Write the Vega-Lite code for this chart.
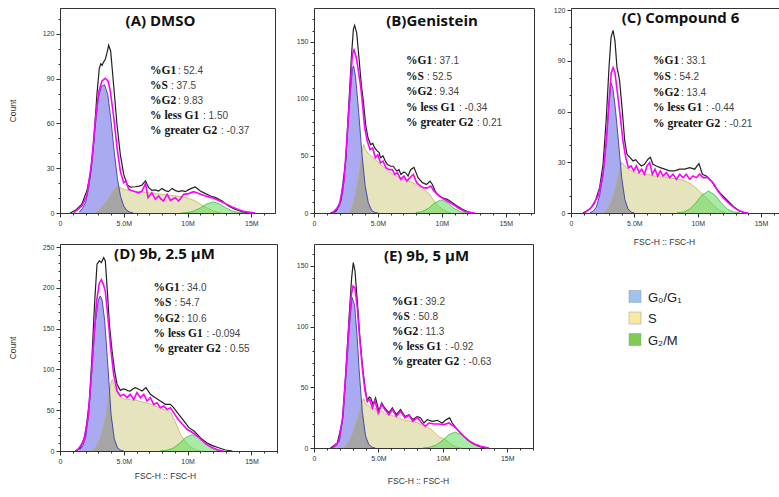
{
"$schema": "https://vega.github.io/schema/vega-lite/v6.json",
"background": "white",
"padding": {"left": 7, "top": 5, "right": 2, "bottom": 2},
"bounds": "flush",
"align": "none",
"columns": 5,
"spacing": {"row": 31, "column": 5},
"config": {
 "view": {"stroke": "#333", "strokeWidth": 1},
 "axis": {"labelFont": "Liberation Sans", "labelFontSize": 7, "labelColor": "#333", "titleFont": "Liberation Sans", "titleFontSize": 8.5, "titleFontWeight": "normal", "titleColor": "#333", "domainColor": "#333", "tickColor": "#333", "grid": false, "labelPadding": 2, "labelOverlap": false, "labelFlush": false},
 "axisX": {"labelOverlap": false, "labelFlush": false, "labelBound": false},
 "title": {"font": "Open Sans", "fontSize": 15, "fontWeight": "bold", "color": "#111", "frame": "group", "anchor": "middle"},
 "style": {
  "lab": {"font": "Liberation Serif", "fontWeight": "bold", "fontSize": 11.5, "align": "left", "baseline": "middle", "color": "#111"},
  "val": {"font": "Liberation Sans", "fontSize": 10, "align": "left", "baseline": "middle", "color": "#444"}
 }
},
"datasets": {
"A": [
{"k":"t","x":0.8,"y":0},{"k":"t","x":1.2,"y":1.8},{"k":"t","x":1.7,"y":5.8},{"k":"t","x":2.1,"y":14.7},{"k":"t","x":2.38,"y":26},{"k":"t","x":2.64,"y":48},{"k":"t","x":2.9,"y":80},{"k":"t","x":3.08,"y":97},{"k":"t","x":3.2,"y":100},{"k":"t","x":3.3,"y":99},{"k":"t","x":3.4,"y":101},{"k":"t","x":3.55,"y":103},{"k":"t","x":3.7,"y":108},{"k":"t","x":3.81,"y":112.4},{"k":"t","x":3.97,"y":108.6},{"k":"t","x":4.2,"y":86},{"k":"t","x":4.47,"y":59},{"k":"t","x":4.73,"y":39},{"k":"t","x":4.99,"y":26},{"k":"t","x":5.25,"y":19},{"k":"t","x":5.51,"y":17.4},{"k":"t","x":5.9,"y":17.6},{"k":"t","x":6.2,"y":18},{"k":"t","x":6.43,"y":18.8},{"k":"t","x":6.7,"y":21.5},{"k":"t","x":6.95,"y":17},{"k":"t","x":7.2,"y":15.2},{"k":"t","x":7.45,"y":15.5},{"k":"t","x":7.73,"y":14.7},{"k":"t","x":7.99,"y":16.5},{"k":"t","x":8.25,"y":15},{"k":"t","x":8.5,"y":14.3},{"k":"t","x":8.78,"y":16.5},{"k":"t","x":9.05,"y":15},{"k":"t","x":9.3,"y":14.3},{"k":"t","x":9.55,"y":15},{"k":"t","x":9.82,"y":14.3},{"k":"t","x":10.05,"y":15.5},{"k":"t","x":10.3,"y":16.5},{"k":"t","x":10.6,"y":17.4},{"k":"t","x":11,"y":14.7},{"k":"t","x":11.4,"y":13},{"k":"t","x":11.8,"y":11.4},{"k":"t","x":12.2,"y":10.3},{"k":"t","x":12.7,"y":8},{"k":"t","x":13.2,"y":4.7},{"k":"t","x":13.7,"y":2.5},{"k":"t","x":14.26,"y":0.9},{"k":"t","x":14.8,"y":0},
{"k":"m","x":1.07,"y":0},{"k":"m","x":1.71,"y":4.7},{"k":"m","x":2.1,"y":11.4},{"k":"m","x":2.5,"y":35},{"k":"m","x":2.77,"y":62},{"k":"m","x":3.03,"y":81},{"k":"m","x":3.29,"y":88.5},{"k":"m","x":3.55,"y":90.3},{"k":"m","x":3.76,"y":88.5},{"k":"m","x":3.94,"y":81.8},{"k":"m","x":4.2,"y":65},{"k":"m","x":4.47,"y":43.8},{"k":"m","x":4.73,"y":28},{"k":"m","x":4.99,"y":20.3},{"k":"m","x":5.17,"y":21.5},{"k":"m","x":5.38,"y":15.9},{"k":"m","x":5.6,"y":15},{"k":"m","x":5.9,"y":14.3},{"k":"m","x":6.15,"y":13.5},{"k":"m","x":6.43,"y":14.7},{"k":"m","x":6.7,"y":19.7},{"k":"m","x":6.9,"y":10.3},{"k":"m","x":7.2,"y":13.6},{"k":"m","x":7.47,"y":9.2},{"k":"m","x":7.73,"y":11.4},{"k":"m","x":7.9,"y":9.5},{"k":"m","x":8.1,"y":8},{"k":"m","x":8.4,"y":12.5},{"k":"m","x":8.65,"y":8.5},{"k":"m","x":9.04,"y":10.3},{"k":"m","x":9.3,"y":8},{"k":"m","x":9.7,"y":12.5},{"k":"m","x":10.08,"y":13},{"k":"m","x":10.47,"y":14.3},{"k":"m","x":10.86,"y":13},{"k":"m","x":11.4,"y":11.4},{"k":"m","x":11.9,"y":10.3},{"k":"m","x":12.4,"y":8.5},{"k":"m","x":12.96,"y":6.3},{"k":"m","x":13.5,"y":4},{"k":"m","x":14,"y":2.2},{"k":"m","x":14.5,"y":0.9},{"k":"m","x":15.3,"y":0},
{"k":"g1","x":1.5,"y":0.5},{"k":"g1","x":1.75,"y":3},{"k":"g1","x":2,"y":7},{"k":"g1","x":2.25,"y":17},{"k":"g1","x":2.5,"y":33},{"k":"g1","x":2.75,"y":57},{"k":"g1","x":3,"y":77},{"k":"g1","x":3.25,"y":85},{"k":"g1","x":3.5,"y":86},{"k":"g1","x":3.75,"y":79},{"k":"g1","x":4,"y":62},{"k":"g1","x":4.25,"y":41},{"k":"g1","x":4.5,"y":23},{"k":"g1","x":4.75,"y":11},{"k":"g1","x":5,"y":4.6},{"k":"g1","x":5.25,"y":1.6},{"k":"g1","x":5.5,"y":0.5},{"k":"g1","x":5.75,"y":0},
{"k":"s","x":2.75,"y":0},{"k":"s","x":3,"y":1.5},{"k":"s","x":3.25,"y":3.5},{"k":"s","x":3.5,"y":6},{"k":"s","x":3.75,"y":9},{"k":"s","x":4,"y":12.5},{"k":"s","x":4.25,"y":16},{"k":"s","x":4.5,"y":18},{"k":"s","x":4.75,"y":17},{"k":"s","x":5,"y":16},{"k":"s","x":5.5,"y":15},{"k":"s","x":6,"y":14.5},{"k":"s","x":6.5,"y":14},{"k":"s","x":7,"y":13.5},{"k":"s","x":7.5,"y":13},{"k":"s","x":8,"y":12.5},{"k":"s","x":8.5,"y":12},{"k":"s","x":9,"y":11.5},{"k":"s","x":9.5,"y":11},{"k":"s","x":10,"y":10},{"k":"s","x":10.5,"y":8.5},{"k":"s","x":11,"y":6},{"k":"s","x":11.5,"y":3.5},{"k":"s","x":12,"y":1.5},{"k":"s","x":12.5,"y":0.3},{"k":"s","x":12.75,"y":0},
{"k":"gr","x":2.75,"y":0},{"k":"gr","x":3,"y":1.5},{"k":"gr","x":3.25,"y":3.5},{"k":"gr","x":3.5,"y":6},{"k":"gr","x":3.75,"y":9},{"k":"gr","x":4,"y":12.5},{"k":"gr","x":4.25,"y":16},{"k":"gr","x":4.5,"y":18},{"k":"gr","x":4.6,"y":17.6},{"k":"gr","x":4.75,"y":11},{"k":"gr","x":5,"y":4.6},{"k":"gr","x":5.25,"y":1.6},{"k":"gr","x":5.5,"y":0.5},{"k":"gr","x":5.75,"y":0},
{"k":"g2","x":9.5,"y":0.06},{"k":"g2","x":10,"y":0.33},{"k":"g2","x":10.5,"y":1.27},{"k":"g2","x":11,"y":3.4},{"k":"g2","x":11.5,"y":6.1},{"k":"g2","x":12,"y":7.4},{"k":"g2","x":12.5,"y":6.1},{"k":"g2","x":13,"y":3.4},{"k":"g2","x":13.5,"y":1.27},{"k":"g2","x":14,"y":0.33},{"k":"g2","x":14.5,"y":0.06}
],
"B": [
{"k":"t","x":1.3,"y":0},{"k":"t","x":1.7,"y":1.8},{"k":"t","x":2.09,"y":10.5},{"k":"t","x":2.48,"y":45.5},{"k":"t","x":2.74,"y":98},{"k":"t","x":2.92,"y":136},{"k":"t","x":3.08,"y":161},{"k":"t","x":3.18,"y":164.6},{"k":"t","x":3.34,"y":158},{"k":"t","x":3.52,"y":136},{"k":"t","x":3.7,"y":112.6},{"k":"t","x":3.86,"y":98},{"k":"t","x":4.04,"y":77.6},{"k":"t","x":4.22,"y":66},{"k":"t","x":4.43,"y":60},{"k":"t","x":4.6,"y":61},{"k":"t","x":4.75,"y":57},{"k":"t","x":4.96,"y":54.3},{"k":"t","x":5.1,"y":53},{"k":"t","x":5.2,"y":48.4},{"k":"t","x":5.4,"y":50},{"k":"t","x":5.6,"y":45},{"k":"t","x":5.74,"y":42.6},{"k":"t","x":6,"y":41},{"k":"t","x":6.2,"y":41},{"k":"t","x":6.47,"y":36.8},{"k":"t","x":6.65,"y":38},{"k":"t","x":6.8,"y":33.8},{"k":"t","x":7.04,"y":36},{"k":"t","x":7.2,"y":35},{"k":"t","x":7.36,"y":32.4},{"k":"t","x":7.56,"y":38},{"k":"t","x":7.82,"y":40},{"k":"t","x":8.14,"y":31},{"k":"t","x":8.48,"y":26.6},{"k":"t","x":8.8,"y":25},{"k":"t","x":9.08,"y":28},{"k":"t","x":9.26,"y":25},{"k":"t","x":9.45,"y":20},{"k":"t","x":9.65,"y":16.3},{"k":"t","x":10.04,"y":13.4},{"k":"t","x":10.43,"y":12},{"k":"t","x":10.82,"y":9},{"k":"t","x":11.2,"y":6.1},{"k":"t","x":11.6,"y":3.2},{"k":"t","x":12,"y":1.2},{"k":"t","x":12.4,"y":0},
{"k":"m","x":1.43,"y":0},{"k":"m","x":1.96,"y":6},{"k":"m","x":2.35,"y":28},{"k":"m","x":2.6,"y":69},{"k":"m","x":2.82,"y":107},{"k":"m","x":3,"y":139},{"k":"m","x":3.13,"y":143},{"k":"m","x":3.29,"y":137},{"k":"m","x":3.44,"y":127},{"k":"m","x":3.65,"y":111},{"k":"m","x":3.8,"y":95},{"k":"m","x":3.96,"y":75},{"k":"m","x":4.17,"y":63},{"k":"m","x":4.38,"y":55.7},{"k":"m","x":4.59,"y":57},{"k":"m","x":4.8,"y":48.4},{"k":"m","x":5,"y":51},{"k":"m","x":5.2,"y":44},{"k":"m","x":5.4,"y":45.5},{"k":"m","x":5.63,"y":39.7},{"k":"m","x":5.87,"y":38},{"k":"m","x":6.13,"y":38},{"k":"m","x":6.31,"y":33.8},{"k":"m","x":6.52,"y":35.3},{"k":"m","x":6.78,"y":29.5},{"k":"m","x":7.04,"y":32.4},{"k":"m","x":7.25,"y":28},{"k":"m","x":7.51,"y":31},{"k":"m","x":7.77,"y":33.8},{"k":"m","x":8.03,"y":26.6},{"k":"m","x":8.35,"y":23.6},{"k":"m","x":8.6,"y":22},{"k":"m","x":8.87,"y":22},{"k":"m","x":9.13,"y":23.6},{"k":"m","x":9.39,"y":19.3},{"k":"m","x":9.78,"y":15},{"k":"m","x":10.17,"y":12},{"k":"m","x":10.56,"y":9.6},{"k":"m","x":10.95,"y":7},{"k":"m","x":11.35,"y":4},{"k":"m","x":11.74,"y":1.8},{"k":"m","x":12.26,"y":0.3},{"k":"m","x":12.6,"y":0},
{"k":"g1","x":1.5,"y":0},{"k":"g1","x":1.75,"y":1.5},{"k":"g1","x":2,"y":7},{"k":"g1","x":2.25,"y":18},{"k":"g1","x":2.5,"y":50},{"k":"g1","x":2.75,"y":92},{"k":"g1","x":3,"y":126},{"k":"g1","x":3.1,"y":129},{"k":"g1","x":3.25,"y":120},{"k":"g1","x":3.5,"y":88},{"k":"g1","x":3.75,"y":52},{"k":"g1","x":4,"y":24},{"k":"g1","x":4.25,"y":9},{"k":"g1","x":4.5,"y":2.5},{"k":"g1","x":4.75,"y":0.5},{"k":"g1","x":5,"y":0},
{"k":"s","x":2.75,"y":0},{"k":"s","x":3,"y":5},{"k":"s","x":3.25,"y":16},{"k":"s","x":3.5,"y":32},{"k":"s","x":3.65,"y":45},{"k":"s","x":3.8,"y":57},{"k":"s","x":3.9,"y":60},{"k":"s","x":4,"y":56},{"k":"s","x":4.25,"y":52},{"k":"s","x":4.5,"y":50},{"k":"s","x":4.75,"y":47},{"k":"s","x":5,"y":45},{"k":"s","x":5.25,"y":42},{"k":"s","x":5.5,"y":40},{"k":"s","x":5.75,"y":37},{"k":"s","x":6,"y":35},{"k":"s","x":6.5,"y":32},{"k":"s","x":7,"y":30},{"k":"s","x":7.5,"y":28},{"k":"s","x":8,"y":25},{"k":"s","x":8.5,"y":21},{"k":"s","x":9,"y":17},{"k":"s","x":9.25,"y":13},{"k":"s","x":9.5,"y":9},{"k":"s","x":9.75,"y":6},{"k":"s","x":10,"y":4},{"k":"s","x":10.25,"y":2},{"k":"s","x":10.5,"y":0.8},{"k":"s","x":10.75,"y":0},
{"k":"gr","x":2.75,"y":0},{"k":"gr","x":3,"y":5},{"k":"gr","x":3.25,"y":16},{"k":"gr","x":3.5,"y":32},{"k":"gr","x":3.65,"y":45},{"k":"gr","x":3.74,"y":52},{"k":"gr","x":3.8,"y":46.4},{"k":"gr","x":4,"y":24},{"k":"gr","x":4.25,"y":9},{"k":"gr","x":4.5,"y":2.5},{"k":"gr","x":4.75,"y":0.5},{"k":"gr","x":5,"y":0},
{"k":"g2","x":7.95,"y":0.2},{"k":"g2","x":8.45,"y":1.2},{"k":"g2","x":8.95,"y":4.1},{"k":"g2","x":9.45,"y":8.9},{"k":"g2","x":9.95,"y":11.5},{"k":"g2","x":10.45,"y":8.9},{"k":"g2","x":10.95,"y":4.1},{"k":"g2","x":11.45,"y":1.2},{"k":"g2","x":11.95,"y":0.2}
],
"C": [
{"k":"t","x":0.95,"y":0},{"k":"t","x":1.47,"y":2.2},{"k":"t","x":1.87,"y":6},{"k":"t","x":2.26,"y":15},{"k":"t","x":2.53,"y":28.8},{"k":"t","x":2.79,"y":56.4},{"k":"t","x":3,"y":86},{"k":"t","x":3.16,"y":103.8},{"k":"t","x":3.32,"y":108},{"k":"t","x":3.47,"y":101.8},{"k":"t","x":3.63,"y":86},{"k":"t","x":3.75,"y":82},{"k":"t","x":3.84,"y":78},{"k":"t","x":4.05,"y":60.4},{"k":"t","x":4.24,"y":42.6},{"k":"t","x":4.42,"y":34.7},{"k":"t","x":4.63,"y":33},{"k":"t","x":4.9,"y":30.8},{"k":"t","x":5.1,"y":31.5},{"k":"t","x":5.29,"y":29.8},{"k":"t","x":5.55,"y":27.8},{"k":"t","x":5.8,"y":28.8},{"k":"t","x":6.08,"y":31.8},{"k":"t","x":6.26,"y":33},{"k":"t","x":6.47,"y":28.8},{"k":"t","x":6.74,"y":27.8},{"k":"t","x":7.05,"y":26.8},{"k":"t","x":7.4,"y":25.9},{"k":"t","x":7.79,"y":24.9},{"k":"t","x":8.18,"y":24.9},{"k":"t","x":8.58,"y":25.9},{"k":"t","x":8.97,"y":25.9},{"k":"t","x":9.37,"y":26.8},{"k":"t","x":9.76,"y":25.9},{"k":"t","x":10.1,"y":29.2},{"k":"t","x":10.37,"y":22.9},{"k":"t","x":10.68,"y":21.9},{"k":"t","x":11.08,"y":18.9},{"k":"t","x":11.42,"y":15},{"k":"t","x":11.74,"y":12},{"k":"t","x":12.13,"y":9},{"k":"t","x":12.53,"y":6.1},{"k":"t","x":12.92,"y":3.2},{"k":"t","x":13.3,"y":1.2},{"k":"t","x":13.84,"y":0},
{"k":"m","x":1.08,"y":0},{"k":"m","x":1.6,"y":3.2},{"k":"m","x":2.13,"y":10},{"k":"m","x":2.53,"y":22.9},{"k":"m","x":2.79,"y":42.6},{"k":"m","x":3,"y":66.3},{"k":"m","x":3.18,"y":83},{"k":"m","x":3.32,"y":86},{"k":"m","x":3.47,"y":83},{"k":"m","x":3.68,"y":70},{"k":"m","x":3.9,"y":56.4},{"k":"m","x":4.1,"y":42.6},{"k":"m","x":4.32,"y":32.8},{"k":"m","x":4.53,"y":26.8},{"k":"m","x":4.74,"y":27.8},{"k":"m","x":4.95,"y":24.9},{"k":"m","x":5.16,"y":27.8},{"k":"m","x":5.37,"y":23.9},{"k":"m","x":5.58,"y":25.9},{"k":"m","x":5.79,"y":22.9},{"k":"m","x":6,"y":27.8},{"k":"m","x":6.21,"y":29.8},{"k":"m","x":6.42,"y":22.9},{"k":"m","x":6.63,"y":25.9},{"k":"m","x":6.84,"y":21.9},{"k":"m","x":7.05,"y":24.9},{"k":"m","x":7.26,"y":21.9},{"k":"m","x":7.53,"y":23.9},{"k":"m","x":7.79,"y":20.9},{"k":"m","x":8.05,"y":22.9},{"k":"m","x":8.32,"y":19.9},{"k":"m","x":8.58,"y":22.9},{"k":"m","x":8.84,"y":20.9},{"k":"m","x":9.1,"y":22.9},{"k":"m","x":9.37,"y":19.9},{"k":"m","x":9.63,"y":21.9},{"k":"m","x":9.9,"y":20.9},{"k":"m","x":10.16,"y":22.9},{"k":"m","x":10.42,"y":20.9},{"k":"m","x":10.8,"y":20.9},{"k":"m","x":11.2,"y":18},{"k":"m","x":11.6,"y":13},{"k":"m","x":12,"y":9},{"k":"m","x":12.4,"y":6.1},{"k":"m","x":12.8,"y":3.6},{"k":"m","x":13.2,"y":1.6},{"k":"m","x":13.7,"y":0.2},{"k":"m","x":14,"y":0},
{"k":"g1","x":1.5,"y":0.3},{"k":"g1","x":1.75,"y":1},{"k":"g1","x":2,"y":3.5},{"k":"g1","x":2.25,"y":10},{"k":"g1","x":2.5,"y":21},{"k":"g1","x":2.75,"y":40},{"k":"g1","x":3,"y":64},{"k":"g1","x":3.15,"y":77},{"k":"g1","x":3.3,"y":74},{"k":"g1","x":3.5,"y":62},{"k":"g1","x":3.75,"y":42},{"k":"g1","x":4,"y":21},{"k":"g1","x":4.25,"y":8},{"k":"g1","x":4.5,"y":2.5},{"k":"g1","x":4.75,"y":0.5},{"k":"g1","x":5,"y":0},
{"k":"s","x":2.5,"y":0},{"k":"s","x":2.75,"y":1.5},{"k":"s","x":3,"y":4},{"k":"s","x":3.25,"y":8},{"k":"s","x":3.5,"y":14},{"k":"s","x":3.75,"y":22},{"k":"s","x":4,"y":30},{"k":"s","x":4.25,"y":28},{"k":"s","x":4.5,"y":26},{"k":"s","x":5,"y":24},{"k":"s","x":5.5,"y":23},{"k":"s","x":6,"y":23},{"k":"s","x":6.5,"y":22},{"k":"s","x":7,"y":21.5},{"k":"s","x":7.5,"y":21},{"k":"s","x":8,"y":20.5},{"k":"s","x":8.5,"y":20},{"k":"s","x":9,"y":19},{"k":"s","x":9.5,"y":17},{"k":"s","x":9.75,"y":15.5},{"k":"s","x":10,"y":14},{"k":"s","x":10.25,"y":12},{"k":"s","x":10.5,"y":10.5},{"k":"s","x":10.75,"y":8.5},{"k":"s","x":11,"y":6.5},{"k":"s","x":11.25,"y":4.5},{"k":"s","x":11.5,"y":3},{"k":"s","x":11.75,"y":1.5},{"k":"s","x":12,"y":0.6},{"k":"s","x":12.25,"y":0},
{"k":"gr","x":2.5,"y":0},{"k":"gr","x":2.75,"y":1.5},{"k":"gr","x":3,"y":4},{"k":"gr","x":3.25,"y":8},{"k":"gr","x":3.5,"y":14},{"k":"gr","x":3.75,"y":22},{"k":"gr","x":3.92,"y":27.3},{"k":"gr","x":4,"y":21},{"k":"gr","x":4.25,"y":8},{"k":"gr","x":4.5,"y":2.5},{"k":"gr","x":4.75,"y":0.5},{"k":"gr","x":5,"y":0},
{"k":"g2","x":8.35,"y":0.1},{"k":"g2","x":8.85,"y":0.57},{"k":"g2","x":9.35,"y":2.2},{"k":"g2","x":9.85,"y":6},{"k":"g2","x":10.35,"y":10.7},{"k":"g2","x":10.85,"y":13},{"k":"g2","x":11.35,"y":10.7},{"k":"g2","x":11.85,"y":6},{"k":"g2","x":12.35,"y":2.2},{"k":"g2","x":12.85,"y":0.57},{"k":"g2","x":13.35,"y":0.1}
],
"D": [
{"k":"t","x":1.2,"y":0},{"k":"t","x":1.6,"y":4},{"k":"t","x":1.99,"y":20},{"k":"t","x":2.3,"y":61},{"k":"t","x":2.5,"y":114},{"k":"t","x":2.72,"y":184},{"k":"t","x":2.9,"y":229},{"k":"t","x":3.08,"y":233},{"k":"t","x":3.24,"y":231},{"k":"t","x":3.42,"y":237},{"k":"t","x":3.55,"y":233},{"k":"t","x":3.71,"y":196},{"k":"t","x":3.87,"y":155},{"k":"t","x":4.08,"y":122.5},{"k":"t","x":4.28,"y":98},{"k":"t","x":4.47,"y":81.7},{"k":"t","x":4.73,"y":74.3},{"k":"t","x":4.95,"y":76},{"k":"t","x":5.12,"y":75.6},{"k":"t","x":5.3,"y":74},{"k":"t","x":5.5,"y":73.5},{"k":"t","x":5.7,"y":76},{"k":"t","x":5.9,"y":77.6},{"k":"t","x":6.17,"y":75.6},{"k":"t","x":6.43,"y":73.5},{"k":"t","x":6.6,"y":76},{"k":"t","x":6.74,"y":77.6},{"k":"t","x":7.08,"y":69.4},{"k":"t","x":7.47,"y":65.4},{"k":"t","x":7.86,"y":61.3},{"k":"t","x":8.25,"y":57.2},{"k":"t","x":8.65,"y":57.2},{"k":"t","x":8.9,"y":53.1},{"k":"t","x":9.3,"y":45},{"k":"t","x":9.7,"y":36.8},{"k":"t","x":10.1,"y":28.6},{"k":"t","x":10.5,"y":24.5},{"k":"t","x":10.87,"y":18.4},{"k":"t","x":11.13,"y":14.3},{"k":"t","x":11.5,"y":10.2},{"k":"t","x":11.9,"y":6.9},{"k":"t","x":12.43,"y":4},{"k":"t","x":12.96,"y":1.2},{"k":"t","x":13.5,"y":0},
{"k":"m","x":1.33,"y":0},{"k":"m","x":1.85,"y":12},{"k":"m","x":2.2,"y":41},{"k":"m","x":2.46,"y":94},{"k":"m","x":2.67,"y":143},{"k":"m","x":2.87,"y":184},{"k":"m","x":3.08,"y":206},{"k":"m","x":3.24,"y":210},{"k":"m","x":3.4,"y":204},{"k":"m","x":3.55,"y":196},{"k":"m","x":3.76,"y":163},{"k":"m","x":3.97,"y":126.6},{"k":"m","x":4.2,"y":94},{"k":"m","x":4.47,"y":73.5},{"k":"m","x":4.73,"y":67.4},{"k":"m","x":4.99,"y":69.4},{"k":"m","x":5.25,"y":65.4},{"k":"m","x":5.5,"y":69.4},{"k":"m","x":5.77,"y":63.3},{"k":"m","x":6.03,"y":71.5},{"k":"m","x":6.3,"y":65.4},{"k":"m","x":6.56,"y":69.4},{"k":"m","x":6.82,"y":61.3},{"k":"m","x":7.08,"y":65.4},{"k":"m","x":7.34,"y":57.2},{"k":"m","x":7.6,"y":59.2},{"k":"m","x":7.86,"y":53.1},{"k":"m","x":8.12,"y":55.1},{"k":"m","x":8.39,"y":51},{"k":"m","x":8.65,"y":53.1},{"k":"m","x":8.9,"y":47},{"k":"m","x":9.17,"y":40.8},{"k":"m","x":9.56,"y":33.5},{"k":"m","x":9.95,"y":26.6},{"k":"m","x":10.34,"y":23},{"k":"m","x":10.74,"y":18.5},{"k":"m","x":11.13,"y":13},{"k":"m","x":11.52,"y":8},{"k":"m","x":11.9,"y":4.5},{"k":"m","x":12.3,"y":1.6},{"k":"m","x":12.8,"y":0},
{"k":"g1","x":1.5,"y":1},{"k":"g1","x":1.75,"y":5},{"k":"g1","x":2,"y":16},{"k":"g1","x":2.25,"y":45},{"k":"g1","x":2.5,"y":100},{"k":"g1","x":2.75,"y":155},{"k":"g1","x":3,"y":185},{"k":"g1","x":3.15,"y":190},{"k":"g1","x":3.3,"y":185},{"k":"g1","x":3.5,"y":160},{"k":"g1","x":3.75,"y":105},{"k":"g1","x":4,"y":45},{"k":"g1","x":4.25,"y":15},{"k":"g1","x":4.5,"y":4},{"k":"g1","x":4.75,"y":1},{"k":"g1","x":5,"y":0},
{"k":"s","x":2.5,"y":0},{"k":"s","x":2.75,"y":4},{"k":"s","x":3,"y":10},{"k":"s","x":3.25,"y":20},{"k":"s","x":3.5,"y":36},{"k":"s","x":3.75,"y":58},{"k":"s","x":4,"y":84},{"k":"s","x":4.1,"y":88},{"k":"s","x":4.25,"y":80},{"k":"s","x":4.5,"y":70},{"k":"s","x":4.75,"y":66},{"k":"s","x":5,"y":64},{"k":"s","x":5.5,"y":63},{"k":"s","x":6,"y":62},{"k":"s","x":6.5,"y":60},{"k":"s","x":7,"y":58},{"k":"s","x":7.5,"y":55},{"k":"s","x":8,"y":52},{"k":"s","x":8.5,"y":49},{"k":"s","x":8.75,"y":45},{"k":"s","x":9,"y":37},{"k":"s","x":9.25,"y":27},{"k":"s","x":9.5,"y":19},{"k":"s","x":9.75,"y":13},{"k":"s","x":10,"y":8.5},{"k":"s","x":10.25,"y":5},{"k":"s","x":10.5,"y":2.5},{"k":"s","x":10.75,"y":1},{"k":"s","x":11,"y":0.2},{"k":"s","x":11.25,"y":0},
{"k":"gr","x":2.5,"y":0},{"k":"gr","x":2.75,"y":4},{"k":"gr","x":3,"y":10},{"k":"gr","x":3.25,"y":20},{"k":"gr","x":3.5,"y":36},{"k":"gr","x":3.75,"y":58},{"k":"gr","x":3.89,"y":72},{"k":"gr","x":4,"y":45},{"k":"gr","x":4.25,"y":15},{"k":"gr","x":4.5,"y":4},{"k":"gr","x":4.75,"y":1},{"k":"gr","x":5,"y":0},
{"k":"g2","x":7.85,"y":0.15},{"k":"g2","x":8.35,"y":0.9},{"k":"g2","x":8.85,"y":3.4},{"k":"g2","x":9.35,"y":9.2},{"k":"g2","x":9.85,"y":16.5},{"k":"g2","x":10.35,"y":20},{"k":"g2","x":10.85,"y":16.5},{"k":"g2","x":11.35,"y":9.2},{"k":"g2","x":11.85,"y":3.4},{"k":"g2","x":12.35,"y":0.9},{"k":"g2","x":12.85,"y":0.15}
],
"E": [
{"k":"t","x":1.29,"y":0},{"k":"t","x":1.81,"y":4.1},{"k":"t","x":2.2,"y":22},{"k":"t","x":2.46,"y":60.6},{"k":"t","x":2.72,"y":107},{"k":"t","x":2.92,"y":140},{"k":"t","x":3.05,"y":152.8},{"k":"t","x":3.18,"y":146},{"k":"t","x":3.36,"y":121},{"k":"t","x":3.54,"y":93.6},{"k":"t","x":3.75,"y":68.8},{"k":"t","x":3.96,"y":49.5},{"k":"t","x":4.14,"y":38.5},{"k":"t","x":4.28,"y":42},{"k":"t","x":4.4,"y":41.3},{"k":"t","x":4.58,"y":35.8},{"k":"t","x":4.78,"y":41.3},{"k":"t","x":5.04,"y":30.3},{"k":"t","x":5.25,"y":37.2},{"k":"t","x":5.5,"y":33},{"k":"t","x":5.82,"y":28.9},{"k":"t","x":6.08,"y":33},{"k":"t","x":6.39,"y":27.5},{"k":"t","x":6.72,"y":31.7},{"k":"t","x":7.06,"y":26},{"k":"t","x":7.37,"y":27.5},{"k":"t","x":7.68,"y":23.4},{"k":"t","x":8.02,"y":26},{"k":"t","x":8.28,"y":24.8},{"k":"t","x":8.53,"y":20.6},{"k":"t","x":8.79,"y":23.4},{"k":"t","x":9.18,"y":22},{"k":"t","x":9.57,"y":22.8},{"k":"t","x":9.96,"y":20.6},{"k":"t","x":10.27,"y":23.4},{"k":"t","x":10.53,"y":24.8},{"k":"t","x":10.73,"y":20.6},{"k":"t","x":11.12,"y":15.1},{"k":"t","x":11.5,"y":11},{"k":"t","x":11.9,"y":6.9},{"k":"t","x":12.28,"y":4.1},{"k":"t","x":12.8,"y":1.4},{"k":"t","x":13.3,"y":0},
{"k":"m","x":1.42,"y":0},{"k":"m","x":1.94,"y":5.5},{"k":"m","x":2.25,"y":27.5},{"k":"m","x":2.5,"y":66},{"k":"m","x":2.72,"y":102},{"k":"m","x":2.9,"y":126.6},{"k":"m","x":3.03,"y":133.5},{"k":"m","x":3.18,"y":132},{"k":"m","x":3.36,"y":115.6},{"k":"m","x":3.54,"y":90.8},{"k":"m","x":3.75,"y":66},{"k":"m","x":3.96,"y":46.8},{"k":"m","x":4.14,"y":38.5},{"k":"m","x":4.32,"y":40},{"k":"m","x":4.53,"y":33},{"k":"m","x":4.73,"y":39},{"k":"m","x":4.99,"y":28.9},{"k":"m","x":5.25,"y":35.8},{"k":"m","x":5.5,"y":31.7},{"k":"m","x":5.82,"y":27.5},{"k":"m","x":6.08,"y":31.7},{"k":"m","x":6.39,"y":26},{"k":"m","x":6.72,"y":30.3},{"k":"m","x":7.06,"y":24.8},{"k":"m","x":7.37,"y":27},{"k":"m","x":7.68,"y":22},{"k":"m","x":8.02,"y":25.3},{"k":"m","x":8.35,"y":20.6},{"k":"m","x":8.66,"y":17.9},{"k":"m","x":8.92,"y":20.6},{"k":"m","x":9.31,"y":19.8},{"k":"m","x":9.7,"y":19.8},{"k":"m","x":10.09,"y":19.3},{"k":"m","x":10.47,"y":20.6},{"k":"m","x":10.86,"y":17.9},{"k":"m","x":11.25,"y":13.8},{"k":"m","x":11.64,"y":9.6},{"k":"m","x":12.02,"y":6},{"k":"m","x":12.41,"y":3.6},{"k":"m","x":12.93,"y":1.4},{"k":"m","x":13.58,"y":0},
{"k":"g1","x":1.5,"y":0.5},{"k":"g1","x":1.75,"y":2},{"k":"g1","x":2,"y":8},{"k":"g1","x":2.25,"y":26},{"k":"g1","x":2.5,"y":62},{"k":"g1","x":2.75,"y":100},{"k":"g1","x":2.95,"y":124},{"k":"g1","x":3.15,"y":118},{"k":"g1","x":3.35,"y":92},{"k":"g1","x":3.5,"y":65},{"k":"g1","x":3.75,"y":30},{"k":"g1","x":4,"y":10},{"k":"g1","x":4.25,"y":3},{"k":"g1","x":4.5,"y":0.7},{"k":"g1","x":4.75,"y":0},
{"k":"s","x":2.25,"y":0},{"k":"s","x":2.5,"y":2},{"k":"s","x":2.75,"y":6},{"k":"s","x":3,"y":12},{"k":"s","x":3.25,"y":20},{"k":"s","x":3.5,"y":28},{"k":"s","x":3.75,"y":38},{"k":"s","x":3.85,"y":41},{"k":"s","x":4,"y":36},{"k":"s","x":4.25,"y":35},{"k":"s","x":4.5,"y":32},{"k":"s","x":4.75,"y":33},{"k":"s","x":5,"y":28},{"k":"s","x":5.25,"y":31},{"k":"s","x":5.5,"y":28},{"k":"s","x":6,"y":27},{"k":"s","x":6.5,"y":25},{"k":"s","x":7,"y":23},{"k":"s","x":7.5,"y":22},{"k":"s","x":8,"y":21},{"k":"s","x":8.5,"y":18},{"k":"s","x":9,"y":16},{"k":"s","x":9.25,"y":14},{"k":"s","x":9.5,"y":11},{"k":"s","x":9.75,"y":9},{"k":"s","x":10,"y":8},{"k":"s","x":10.25,"y":6.5},{"k":"s","x":10.5,"y":4.5},{"k":"s","x":10.75,"y":2.5},{"k":"s","x":11,"y":1},{"k":"s","x":11.25,"y":0.3},{"k":"s","x":11.5,"y":0},
{"k":"gr","x":2.25,"y":0},{"k":"gr","x":2.5,"y":2},{"k":"gr","x":2.75,"y":6},{"k":"gr","x":3,"y":12},{"k":"gr","x":3.25,"y":20},{"k":"gr","x":3.5,"y":28},{"k":"gr","x":3.7,"y":36.2},{"k":"gr","x":3.75,"y":30},{"k":"gr","x":4,"y":10},{"k":"gr","x":4.25,"y":3},{"k":"gr","x":4.5,"y":0.7},{"k":"gr","x":4.75,"y":0},
{"k":"g2","x":8.45,"y":0.1},{"k":"g2","x":8.95,"y":0.58},{"k":"g2","x":9.45,"y":2.3},{"k":"g2","x":9.95,"y":6},{"k":"g2","x":10.45,"y":10.9},{"k":"g2","x":10.95,"y":13.2},{"k":"g2","x":11.45,"y":10.9},{"k":"g2","x":11.95,"y":6},{"k":"g2","x":12.45,"y":2.3},{"k":"g2","x":12.95,"y":0.58},{"k":"g2","x":13.45,"y":0.1}
],
"sA": [{"lab":"%G1","val":": 52.4"},{"lab":"%S","val":": 37.5"},{"lab":"%G2","val":": 9.83"},{"lab":"% less G1","val":": 1.50"},{"lab":"% greater G2","val":": -0.37"}],
"sB": [{"lab":"%G1","val":": 37.1"},{"lab":"%S","val":": 52.5"},{"lab":"%G2","val":": 9.34"},{"lab":"% less G1","val":": -0.34"},{"lab":"% greater G2","val":": 0.21"}],
"sC": [{"lab":"%G1","val":": 33.1"},{"lab":"%S","val":": 54.2"},{"lab":"%G2","val":": 13.4"},{"lab":"% less G1","val":": -0.44"},{"lab":"% greater G2","val":": -0.21"}],
"sD": [{"lab":"%G1","val":": 34.0"},{"lab":"%S","val":": 54.7"},{"lab":"%G2","val":": 10.6"},{"lab":"% less G1","val":": -0.094"},{"lab":"% greater G2","val":": 0.55"}],
"sE": [{"lab":"%G1","val":": 39.2"},{"lab":"%S","val":": 50.8"},{"lab":"%G2","val":": 11.3"},{"lab":"% less G1","val":": -0.92"},{"lab":"% greater G2","val":": -0.63"}],
"leg": [{"ph":"G₀/G₁"},{"ph":"S"},{"ph":"G₂/M"}]
},
"concat": [
 {"width": 215, "height": 205, "title": {"text": "(A) DMSO", "offset": -21, "dx": -7},
  "layer": [
   {"data": {"name": "A"},
    "encoding": {
     "x": {"field": "x", "type": "quantitative", "scale": {"domain": [0, 16.85], "nice": false, "zero": false}, "axis": {"values": [0,1,2,3,4,5,6,7,8,9,10,11,12,13,14,15,16], "labelExpr": "datum.value === 5 ? '5.0M' : (datum.value % 5 === 0 && datum.value > 0) ? datum.label + 'M' : datum.value === 0 ? '0' : ''", "labelOverlap": false, "labelFlush": false, "tickSize": {"condition": {"test": "datum.value % 5 === 0", "value": 4}, "value": 2}, "title": null}},
     "y": {"field": "y", "type": "quantitative", "scale": {"domain": [0, 137.4], "nice": false}, "axis": {"values": [0,10,20,30,40,50,60,70,80,90,100,110,120,130], "labelExpr": "datum.value % 30 === 0 ? datum.label : ''", "labelOverlap": false, "tickSize": {"condition": {"test": "datum.value % 30 === 0", "value": 4}, "value": 2}, "title": "Count", "titlePadding": 25}}
    },
    "layer": [
     {"transform": [{"filter": {"field": "k", "equal": "g1"}}], "mark": {"type": "area", "color": "#aaaaf0"}},
     {"transform": [{"filter": {"field": "k", "equal": "s"}}], "mark": {"type": "area", "color": "#dcd8a0", "line": {"color": "#b8b048", "strokeWidth": 0.7}}},
     {"transform": [{"filter": {"field": "k", "equal": "gr"}}], "mark": {"type": "area", "color": "#a5a5a5"}},
     {"transform": [{"filter": {"field": "k", "equal": "g2"}}], "mark": {"type": "area", "color": "#50d850", "opacity": 0.5, "line": {"color": "#30b030", "strokeWidth": 0.7, "opacity": 1}}},
     {"transform": [{"filter": {"field": "k", "equal": "g1"}}], "mark": {"type": "line", "color": "#2a2aa8", "strokeWidth": 0.8}},
     {"transform": [{"filter": {"field": "k", "equal": "t"}}], "mark": {"type": "line", "color": "#222222", "strokeWidth": 1.2}},
     {"transform": [{"filter": {"field": "k", "equal": "m"}}], "mark": {"type": "line", "color": "#ff00ff", "strokeWidth": 1.6}}
    ]},
   {"data": {"name": "sA"},
    "encoding": {"y": {"field": "lab", "type": "ordinal", "scale": {"type": "point", "domain": ["%G1","%S","%G2","% less G1","% greater G2"], "range": [63, 123], "padding": 0}, "axis": null}},
    "layer": [
     {"mark": {"type": "text", "style": "lab", "dx": -17.5}, "encoding": {"text": {"field": "lab"}}},
     {"transform": [{"filter": {"field": "lab", "equal": "%S"}}], "mark": {"type": "text", "style": "val", "dx": 3.5}, "encoding": {"text": {"field": "val"}}},
     {"transform": [{"filter": {"field": "lab", "oneOf": ["%G1", "%G2"]}}], "mark": {"type": "text", "style": "val", "dx": 10.5}, "encoding": {"text": {"field": "val"}}},
     {"transform": [{"filter": {"field": "lab", "equal": "% less G1"}}], "mark": {"type": "text", "style": "val", "dx": 35.5}, "encoding": {"text": {"field": "val"}}},
     {"transform": [{"filter": {"field": "lab", "equal": "% greater G2"}}], "mark": {"type": "text", "style": "val", "dx": 53.5}, "encoding": {"text": {"field": "val"}}}
    ]}
  ],
  "resolve": {"scale": {"y": "independent"}, "axis": {"y": "independent"}}
 },
 {"width": 22, "height": 205, "view": {"stroke": null}, "data": {"values": []}, "mark": "point"},
 {"width": 220, "height": 205, "title": {"text": "(B)Genistein", "offset": -21, "dx": 8},
  "layer": [
   {"data": {"name": "B"},
    "encoding": {
     "x": {"field": "x", "type": "quantitative", "scale": {"domain": [0, 17.21], "nice": false, "zero": false}, "axis": {"values": [0,1,2,3,4,5,6,7,8,9,10,11,12,13,14,15,16,17], "labelExpr": "datum.value === 5 ? '5.0M' : (datum.value % 5 === 0 && datum.value > 0) ? datum.label + 'M' : datum.value === 0 ? '0' : ''", "labelOverlap": false, "labelFlush": false, "tickSize": {"condition": {"test": "datum.value % 5 === 0", "value": 4}, "value": 2}, "title": null}},
     "y": {"field": "y", "type": "quantitative", "scale": {"domain": [0, 179.8], "nice": false}, "axis": {"values": [0,10,20,30,40,50,60,70,80,90,100,110,120,130,140,150,160,170], "labelExpr": "datum.value % 50 === 0 ? datum.label : ''", "labelOverlap": false, "tickSize": {"condition": {"test": "datum.value % 50 === 0", "value": 4}, "value": 2}, "title": null}}
    },
    "layer": [
     {"transform": [{"filter": {"field": "k", "equal": "g1"}}], "mark": {"type": "area", "color": "#aaaaf0"}},
     {"transform": [{"filter": {"field": "k", "equal": "s"}}], "mark": {"type": "area", "color": "#dcd8a0", "line": {"color": "#b8b048", "strokeWidth": 0.7}}},
     {"transform": [{"filter": {"field": "k", "equal": "gr"}}], "mark": {"type": "area", "color": "#a5a5a5"}},
     {"transform": [{"filter": {"field": "k", "equal": "g2"}}], "mark": {"type": "area", "color": "#50d850", "opacity": 0.5, "line": {"color": "#30b030", "strokeWidth": 0.7, "opacity": 1}}},
     {"transform": [{"filter": {"field": "k", "equal": "g1"}}], "mark": {"type": "line", "color": "#2a2aa8", "strokeWidth": 0.8}},
     {"transform": [{"filter": {"field": "k", "equal": "t"}}], "mark": {"type": "line", "color": "#222222", "strokeWidth": 1.2}},
     {"transform": [{"filter": {"field": "k", "equal": "m"}}], "mark": {"type": "line", "color": "#ff00ff", "strokeWidth": 1.6}}
    ]},
   {"data": {"name": "sB"},
    "encoding": {"y": {"field": "lab", "type": "ordinal", "scale": {"type": "point", "domain": ["%G1","%S","%G2","% less G1","% greater G2"], "range": [53, 115], "padding": 0}, "axis": null}},
    "layer": [
     {"mark": {"type": "text", "style": "lab", "dx": -18}, "encoding": {"text": {"field": "lab"}}},
     {"transform": [{"filter": {"field": "lab", "equal": "%S"}}], "mark": {"type": "text", "style": "val", "dx": 3}, "encoding": {"text": {"field": "val"}}},
     {"transform": [{"filter": {"field": "lab", "oneOf": ["%G1", "%G2"]}}], "mark": {"type": "text", "style": "val", "dx": 10}, "encoding": {"text": {"field": "val"}}},
     {"transform": [{"filter": {"field": "lab", "equal": "% less G1"}}], "mark": {"type": "text", "style": "val", "dx": 35}, "encoding": {"text": {"field": "val"}}},
     {"transform": [{"filter": {"field": "lab", "equal": "% greater G2"}}], "mark": {"type": "text", "style": "val", "dx": 53}, "encoding": {"text": {"field": "val"}}}
    ]}
  ],
  "resolve": {"scale": {"y": "independent"}, "axis": {"y": "independent"}}
 },
 {"width": 23, "height": 205, "view": {"stroke": null}, "data": {"values": []}, "mark": "point"},
 {"width": 215, "height": 205, "title": {"text": "(C) Compound 6", "offset": -20, "dx": 2},
  "layer": [
   {"data": {"name": "C"},
    "encoding": {
     "x": {"field": "x", "type": "quantitative", "scale": {"domain": [0, 16.97], "nice": false, "zero": false}, "axis": {"values": [0,1,2,3,4,5,6,7,8,9,10,11,12,13,14,15,16], "labelExpr": "datum.value === 5 ? '5.0M' : (datum.value % 5 === 0 && datum.value > 0) ? datum.label + 'M' : datum.value === 0 ? '0' : ''", "labelOverlap": false, "labelFlush": false, "tickSize": {"condition": {"test": "datum.value % 5 === 0", "value": 4}, "value": 2}, "title": "FSC-H :: FSC-H", "titlePadding": 11, "titleX": 93}},
     "y": {"field": "y", "type": "quantitative", "scale": {"domain": [0, 121.2], "nice": false}, "axis": {"values": [0,10,20,30,40,50,60,70,80,90,100,110,120], "labelExpr": "datum.value % 30 === 0 ? datum.label : ''", "labelOverlap": false, "tickSize": {"condition": {"test": "datum.value % 30 === 0", "value": 4}, "value": 2}, "title": null}}
    },
    "layer": [
     {"transform": [{"filter": {"field": "k", "equal": "g1"}}], "mark": {"type": "area", "color": "#aaaaf0"}},
     {"transform": [{"filter": {"field": "k", "equal": "s"}}], "mark": {"type": "area", "color": "#dcd8a0", "line": {"color": "#b8b048", "strokeWidth": 0.7}}},
     {"transform": [{"filter": {"field": "k", "equal": "gr"}}], "mark": {"type": "area", "color": "#a5a5a5"}},
     {"transform": [{"filter": {"field": "k", "equal": "g2"}}], "mark": {"type": "area", "color": "#50d850", "opacity": 0.5, "line": {"color": "#30b030", "strokeWidth": 0.7, "opacity": 1}}},
     {"transform": [{"filter": {"field": "k", "equal": "g1"}}], "mark": {"type": "line", "color": "#2a2aa8", "strokeWidth": 0.8}},
     {"transform": [{"filter": {"field": "k", "equal": "t"}}], "mark": {"type": "line", "color": "#222222", "strokeWidth": 1.2}},
     {"transform": [{"filter": {"field": "k", "equal": "m"}}], "mark": {"type": "line", "color": "#ff00ff", "strokeWidth": 1.6}}
    ]},
   {"data": {"name": "sC"},
    "encoding": {"y": {"field": "lab", "type": "ordinal", "scale": {"type": "point", "domain": ["%G1","%S","%G2","% less G1","% greater G2"], "range": [53, 116], "padding": 0}, "axis": null}},
    "layer": [
     {"mark": {"type": "text", "style": "lab", "dx": -25.5}, "encoding": {"text": {"field": "lab"}}},
     {"transform": [{"filter": {"field": "lab", "equal": "%S"}}], "mark": {"type": "text", "style": "val", "dx": -4.5}, "encoding": {"text": {"field": "val"}}},
     {"transform": [{"filter": {"field": "lab", "oneOf": ["%G1", "%G2"]}}], "mark": {"type": "text", "style": "val", "dx": 2.5}, "encoding": {"text": {"field": "val"}}},
     {"transform": [{"filter": {"field": "lab", "equal": "% less G1"}}], "mark": {"type": "text", "style": "val", "dx": 27.5}, "encoding": {"text": {"field": "val"}}},
     {"transform": [{"filter": {"field": "lab", "equal": "% greater G2"}}], "mark": {"type": "text", "style": "val", "dx": 45.5}, "encoding": {"text": {"field": "val"}}}
    ]}
  ],
  "resolve": {"scale": {"y": "independent"}, "axis": {"y": "independent"}}
 },
 {"width": 217, "height": 207, "title": {"text": "(D) 9b, 2.5 μM", "offset": -19, "dx": -4},
  "layer": [
   {"data": {"name": "D"},
    "encoding": {
     "x": {"field": "x", "type": "quantitative", "scale": {"domain": [0, 17], "nice": false, "zero": false}, "axis": {"values": [0,1,2,3,4,5,6,7,8,9,10,11,12,13,14,15,16,17], "labelExpr": "datum.value === 5 ? '5.0M' : (datum.value % 5 === 0 && datum.value > 0) ? datum.label + 'M' : datum.value === 0 ? '0' : ''", "labelOverlap": false, "labelFlush": false, "tickSize": {"condition": {"test": "datum.value % 5 === 0", "value": 4}, "value": 2}, "title": "FSC-H :: FSC-H", "titlePadding": 7, "titleX": 105}},
     "y": {"field": "y", "type": "quantitative", "scale": {"domain": [0, 253.7], "nice": false}, "axis": {"values": [0,10,20,30,40,50,60,70,80,90,100,110,120,130,140,150,160,170,180,190,200,210,220,230,240,250], "labelExpr": "datum.value % 50 === 0 ? datum.label : ''", "labelOverlap": false, "tickSize": {"condition": {"test": "datum.value % 50 === 0", "value": 4}, "value": 2}, "title": "Count", "titlePadding": 25}}
    },
    "layer": [
     {"transform": [{"filter": {"field": "k", "equal": "g1"}}], "mark": {"type": "area", "color": "#aaaaf0"}},
     {"transform": [{"filter": {"field": "k", "equal": "s"}}], "mark": {"type": "area", "color": "#dcd8a0", "line": {"color": "#b8b048", "strokeWidth": 0.7}}},
     {"transform": [{"filter": {"field": "k", "equal": "gr"}}], "mark": {"type": "area", "color": "#a5a5a5"}},
     {"transform": [{"filter": {"field": "k", "equal": "g2"}}], "mark": {"type": "area", "color": "#50d850", "opacity": 0.5, "line": {"color": "#30b030", "strokeWidth": 0.7, "opacity": 1}}},
     {"transform": [{"filter": {"field": "k", "equal": "g1"}}], "mark": {"type": "line", "color": "#2a2aa8", "strokeWidth": 0.8}},
     {"transform": [{"filter": {"field": "k", "equal": "t"}}], "mark": {"type": "line", "color": "#222222", "strokeWidth": 1.2}},
     {"transform": [{"filter": {"field": "k", "equal": "m"}}], "mark": {"type": "line", "color": "#ff00ff", "strokeWidth": 1.6}}
    ]},
   {"data": {"name": "sD"},
    "encoding": {"y": {"field": "lab", "type": "ordinal", "scale": {"type": "point", "domain": ["%G1","%S","%G2","% less G1","% greater G2"], "range": [44, 105], "padding": 0}, "axis": null}},
    "layer": [
     {"mark": {"type": "text", "style": "lab", "dx": -15}, "encoding": {"text": {"field": "lab"}}},
     {"transform": [{"filter": {"field": "lab", "equal": "%S"}}], "mark": {"type": "text", "style": "val", "dx": 6}, "encoding": {"text": {"field": "val"}}},
     {"transform": [{"filter": {"field": "lab", "oneOf": ["%G1", "%G2"]}}], "mark": {"type": "text", "style": "val", "dx": 13}, "encoding": {"text": {"field": "val"}}},
     {"transform": [{"filter": {"field": "lab", "equal": "% less G1"}}], "mark": {"type": "text", "style": "val", "dx": 38}, "encoding": {"text": {"field": "val"}}},
     {"transform": [{"filter": {"field": "lab", "equal": "% greater G2"}}], "mark": {"type": "text", "style": "val", "dx": 56}, "encoding": {"text": {"field": "val"}}}
    ]}
  ],
  "resolve": {"scale": {"y": "independent"}, "axis": {"y": "independent"}}
 },
 {"width": 27, "height": 204, "view": {"stroke": null}, "data": {"values": []}, "mark": "point"},
 {"width": 219, "height": 204, "title": {"text": "(E) 9b, 5 μM", "offset": -20, "dx": 3},
  "layer": [
   {"data": {"name": "E"},
    "encoding": {
     "x": {"field": "x", "type": "quantitative", "scale": {"domain": [0, 17], "nice": false, "zero": false}, "axis": {"values": [0,1,2,3,4,5,6,7,8,9,10,11,12,13,14,15,16,17], "labelExpr": "datum.value === 5 ? '5.0M' : (datum.value % 5 === 0 && datum.value > 0) ? datum.label + 'M' : datum.value === 0 ? '0' : ''", "labelOverlap": false, "labelFlush": false, "tickSize": {"condition": {"test": "datum.value % 5 === 0", "value": 4}, "value": 2}, "title": "FSC-H :: FSC-H", "titlePadding": 15, "titleX": 104}},
     "y": {"field": "y", "type": "quantitative", "scale": {"domain": [0, 168.1], "nice": false}, "axis": {"values": [0,10,20,30,40,50,60,70,80,90,100,110,120,130,140,150,160], "labelExpr": "datum.value % 50 === 0 ? datum.label : ''", "labelOverlap": false, "tickSize": {"condition": {"test": "datum.value % 50 === 0", "value": 4}, "value": 2}, "title": null}}
    },
    "layer": [
     {"transform": [{"filter": {"field": "k", "equal": "g1"}}], "mark": {"type": "area", "color": "#aaaaf0"}},
     {"transform": [{"filter": {"field": "k", "equal": "s"}}], "mark": {"type": "area", "color": "#dcd8a0", "line": {"color": "#b8b048", "strokeWidth": 0.7}}},
     {"transform": [{"filter": {"field": "k", "equal": "gr"}}], "mark": {"type": "area", "color": "#a5a5a5"}},
     {"transform": [{"filter": {"field": "k", "equal": "g2"}}], "mark": {"type": "area", "color": "#50d850", "opacity": 0.5, "line": {"color": "#30b030", "strokeWidth": 0.7, "opacity": 1}}},
     {"transform": [{"filter": {"field": "k", "equal": "g1"}}], "mark": {"type": "line", "color": "#2a2aa8", "strokeWidth": 0.8}},
     {"transform": [{"filter": {"field": "k", "equal": "t"}}], "mark": {"type": "line", "color": "#222222", "strokeWidth": 1.2}},
     {"transform": [{"filter": {"field": "k", "equal": "m"}}], "mark": {"type": "line", "color": "#ff00ff", "strokeWidth": 1.6}}
    ]},
   {"data": {"name": "sE"},
    "encoding": {"y": {"field": "lab", "type": "ordinal", "scale": {"type": "point", "domain": ["%G1","%S","%G2","% less G1","% greater G2"], "range": [58, 118], "padding": 0}, "axis": null}},
    "layer": [
     {"mark": {"type": "text", "style": "lab", "dx": -31.5}, "encoding": {"text": {"field": "lab"}}},
     {"transform": [{"filter": {"field": "lab", "equal": "%S"}}], "mark": {"type": "text", "style": "val", "dx": -10.5}, "encoding": {"text": {"field": "val"}}},
     {"transform": [{"filter": {"field": "lab", "oneOf": ["%G1", "%G2"]}}], "mark": {"type": "text", "style": "val", "dx": -3.5}, "encoding": {"text": {"field": "val"}}},
     {"transform": [{"filter": {"field": "lab", "equal": "% less G1"}}], "mark": {"type": "text", "style": "val", "dx": 21.5}, "encoding": {"text": {"field": "val"}}},
     {"transform": [{"filter": {"field": "lab", "equal": "% greater G2"}}], "mark": {"type": "text", "style": "val", "dx": 39.5}, "encoding": {"text": {"field": "val"}}}
    ]}
  ],
  "resolve": {"scale": {"y": "independent"}, "axis": {"y": "independent"}}
 },
 {"width": 27, "height": 204, "view": {"stroke": null}, "data": {"values": []}, "mark": "point"},
 {"width": 128, "height": 100, "view": {"stroke": null}, "data": {"name": "leg"},
  "encoding": {"y": {"field": "ph", "type": "nominal", "sort": null, "scale": {"type": "point", "domain": ["G₀/G₁", "S", "G₂/M"], "range": [52.5, 95.5], "padding": 0}, "axis": null}},
  "layer": [
   {"mark": {"type": "square", "size": 144, "opacity": 1, "stroke": "#8a9aaa", "strokeWidth": 0.5}, "encoding": {"color": {"field": "ph", "type": "nominal", "scale": {"domain": ["G₀/G₁", "S", "G₂/M"], "range": ["#9fc3ea", "#fce8a2", "#7fcc55"]}, "legend": null}}},
   {"mark": {"type": "text", "align": "left", "baseline": "middle", "dx": 13, "dy": 1, "font": "Liberation Sans", "fontSize": 13, "color": "#222222"}, "encoding": {"text": {"field": "ph"}}}
  ]
 }
]
}
